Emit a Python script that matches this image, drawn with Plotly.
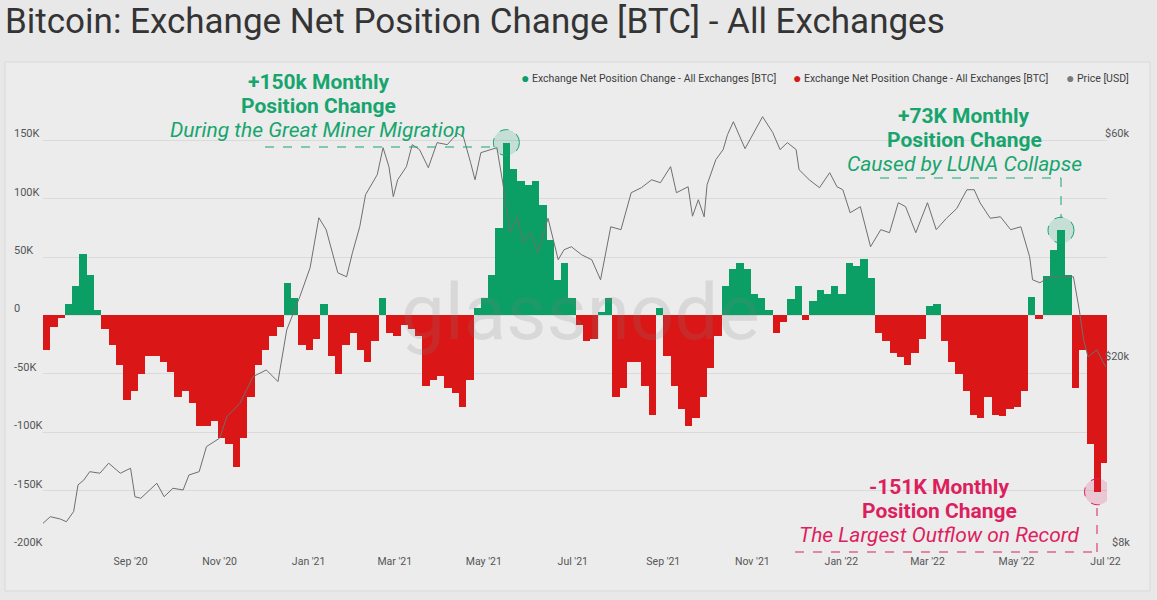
import math
import pandas as pd
import plotly.graph_objects as go

# exchange net position change, thousands of BTC, one value per 5-day bin from 2020-07-03
net_change_k = [
    -30, -10, -2, 10, 25, 53, 35, 5, -12, -25,
    -42, -72, -65, -50, -35, -35, -40, -48, -70, -65,
    -75, -95, -95, -90, -105, -110, -130, -105, -70, -42,
    -30, -18, -10, 28, 15, -25, -30, -20, 10, -35,
    -50, -25, -15, -30, -40, -22, 15, -15, -18, -8,
    -12, -18, -60, -55, -52, -62, -66, -78, -55, 6,
    15, 35, 75, 148, 125, 115, 112, 115, 95, 65,
    30, 45, 15, -8, -22, -20, 3, 15, -70, -62,
    -40, -40, -60, -85, 6, -35, -60, -80, -95, -88,
    -70, -45, -18, 25, 40, 45, 40, 18, 15, 5,
    -15, -6, 14, 25, -4, 12, 22, 18, 25, 18,
    45, 42, 48, 32, -15, -22, -32, -36, -42, -32,
    -20, 8, 10, -22, -40, -50, -65, -85, -88, -70,
    -85, -86, -80, -78, -65, 16, -3, 34, 56, 73,
    35, -62, -30, -110, -151, -126,
]

price_dates = [
    "2020-07-03", "2020-07-08", "2020-07-15", "2020-07-19", "2020-07-24", "2020-07-27", "2020-07-31", "2020-08-04", "2020-08-11", "2020-08-17",
    "2020-08-25", "2020-09-01", "2020-09-04", "2020-09-08", "2020-09-19", "2020-09-24", "2020-09-30", "2020-10-07", "2020-10-11", "2020-10-18",
    "2020-10-23", "2020-11-01", "2020-11-06", "2020-11-15", "2020-11-24", "2020-12-03", "2020-12-11", "2020-12-17", "2020-12-26", "2021-01-02",
    "2021-01-08", "2021-01-13", "2021-01-21", "2021-01-27", "2021-01-31", "2021-02-05", "2021-02-09", "2021-02-12", "2021-02-17", "2021-02-21",
    "2021-02-25", "2021-02-28", "2021-03-03", "2021-03-09", "2021-03-13", "2021-03-18", "2021-03-24", "2021-03-30", "2021-04-06", "2021-04-13",
    "2021-04-17", "2021-04-22", "2021-04-25", "2021-04-29", "2021-05-05", "2021-05-10", "2021-05-14", "2021-05-19", "2021-05-24", "2021-05-28",
    "2021-06-02", "2021-06-07", "2021-06-14", "2021-06-21", "2021-06-25", "2021-06-30", "2021-07-07", "2021-07-14", "2021-07-20", "2021-07-27",
    "2021-08-03", "2021-08-10", "2021-08-17", "2021-08-24", "2021-08-30", "2021-09-06", "2021-09-10", "2021-09-18", "2021-09-21", "2021-09-25",
    "2021-09-29", "2021-10-01", "2021-10-07", "2021-10-12", "2021-10-15", "2021-10-19", "2021-10-27", "2021-11-02", "2021-11-08", "2021-11-15",
    "2021-11-20", "2021-11-25", "2021-12-01", "2021-12-03", "2021-12-10", "2021-12-17", "2021-12-24", "2021-12-29", "2022-01-02", "2022-01-07",
    "2022-01-14", "2022-01-21", "2022-01-28", "2022-02-03", "2022-02-09", "2022-02-14", "2022-02-21", "2022-03-01", "2022-03-07", "2022-03-14",
    "2022-03-21", "2022-03-28", "2022-04-02", "2022-04-06", "2022-04-13", "2022-04-20", "2022-04-27", "2022-05-04", "2022-05-10", "2022-05-12",
    "2022-05-17", "2022-05-24", "2022-06-02", "2022-06-09", "2022-06-13", "2022-06-16", "2022-06-19", "2022-06-25", "2022-07-01",
]
price_usd = [
    9080, 9380, 9270, 9150, 9620, 10970, 11240, 11710, 11620, 12210,
    11620, 11910, 10350, 10270, 11060, 10350, 10790, 10700, 11520, 11710,
    13250, 13810, 15360, 16410, 18710, 19330, 18250, 23550, 27750, 31980,
    40910, 38580, 31190, 30590, 34420, 39130, 45830, 47440, 50570, 57780,
    52620, 45380, 49330, 52620, 58650, 57230, 52350, 59230, 58650, 62000,
    61000, 53650, 49330, 56380, 57230, 57780, 48620, 38010, 41110, 36170,
    38010, 34420, 40810, 33260, 34950, 35470, 34100, 33260, 30140, 39130,
    38580, 46280, 47440, 49330, 48620, 52620, 46280, 47660, 41220, 44710,
    41110, 48140, 54460, 57230, 61620, 65660, 57500, 62230, 67310, 62230,
    57230, 59230, 57230, 51850, 49330, 47440, 51080, 47660, 46970, 41940,
    43210, 35470, 38580, 38010, 44060, 43210, 38010, 44060, 38580, 40810,
    42790, 46970, 46970, 44060, 40810, 41110, 38580, 39130, 33760, 30140,
    29700, 30590, 30590, 30590, 25990, 22420, 20620, 21340, 19630,
]

left_ticks = [150000, 100000, 50000, 0, -50000, -100000, -150000, -200000]
left_labels = ["150K", "100K", "50K", "0", "-50K", "-100K", "-150K", "-200K"]
right_ticks = [60000, 20000, 8000]
right_labels = ["$60k", "$20k", "$8k"]

GREEN = "#0b9f66"
RED = "#da1616"
TXT_GREEN = "#17a56d"
TXT_PINK = "#dc1f5e"
FONT = "Roboto"

# plot area in page pixels
L, R, T, B = 43, 1107, 100, 549


def px(x):
    return (x - L) / (R - L)


def py(y):
    return (B - y) / (B - T)


bin_start = pd.date_range("2020-07-03", periods=len(net_change_k), freq="5D")
centers = bin_start + pd.Timedelta(hours=60)
values = [v * 1000 for v in net_change_k]
pos = [v if v > 0 else None for v in values]
neg = [v if v < 0 else None for v in values]
bar_w = 5 * 86400000

fig = go.Figure()
fig.add_trace(go.Bar(x=centers, y=pos, width=bar_w, marker=dict(color=GREEN, line_width=0),
                     name="Exchange Net Position Change - All Exchanges [BTC]"))
fig.add_trace(go.Bar(x=centers, y=neg, width=bar_w, marker=dict(color=RED, line_width=0),
                     name="Exchange Net Position Change - All Exchanges [BTC]"))
fig.add_trace(go.Scatter(x=price_dates, y=price_usd, yaxis="y2", mode="lines",
                         line=dict(color="#6f6f6f", width=1), name="Price [USD]"))

ann = []
shapes = []

# card
shapes.append(dict(type="rect", xref="paper", yref="paper", x0=px(5), x1=px(1150), y0=py(591), y1=py(62),
                   fillcolor="#ececed", line=dict(color="#d9d9d9", width=1), layer="below"))

# title
ann.append(dict(text="Bitcoin: Exchange Net Position Change [BTC] - All Exchanges", xref="paper", yref="paper",
                x=px(3), y=py(21), xanchor="left", yanchor="middle", showarrow=False,
                font=dict(family=FONT, size=35, color="#343434")))

# legend
legend_items = [(519, GREEN, "Exchange Net Position Change - All Exchanges [BTC]"),
                (791, RED, "Exchange Net Position Change - All Exchanges [BTC]"),
                (1064, "#7a7a7a", "Price [USD]")]
for lx, col, name in legend_items:
    ann.append(dict(text="●", xref="paper", yref="paper", x=px(lx), y=py(78), xanchor="left", yanchor="middle",
                    showarrow=False, font=dict(family=FONT, size=14, color=col)))
    ann.append(dict(text=name, xref="paper", yref="paper", x=px(lx + 11), y=py(78), xanchor="left", yanchor="middle",
                    showarrow=False, font=dict(family=FONT, size=10.5, color="#3d3d3d")))

# axis labels
for v, lab in zip(left_ticks, left_labels):
    ann.append(dict(text=lab, xref="paper", yref="y", x=px(12), y=v, xanchor="left", yanchor="bottom",
                    yshift=-2, showarrow=False, font=dict(family=FONT, size=11, color="#555")))
for v, lab in zip(right_ticks, right_labels):
    ann.append(dict(text=lab, xref="paper", yref="y2", x=px(1132), y=math.log10(v), xanchor="right",
                    yanchor="bottom", yshift=-2, showarrow=False, font=dict(family=FONT, size=11, color="#555")))

# watermark
ann.append(dict(text="glassnode", xref="paper", yref="paper", x=px(580), y=py(312), xanchor="center",
                yanchor="middle", showarrow=False,
                font=dict(family=FONT, size=78, color="rgba(130,130,130,0.18)")))


def callout(cx, lines, color):
    for (y, txt, bold) in lines:
        ann.append(dict(text=f"<b>{txt}</b>" if bold else f"<i>{txt}</i>", xref="paper", yref="paper",
                        x=px(cx), y=py(y), xanchor="center", yanchor="middle", showarrow=False,
                        height=22, borderpad=0, font=dict(family=FONT, size=21, color=color)))


callout(318, [(82, "+150k Monthly", True), (106, "Position Change", True),
              (130, "During the Great Miner Migration", False)], TXT_GREEN)
callout(964, [(116, "+73K Monthly", True), (140, "Position Change", True),
              (164, "Caused by LUNA Collapse", False)], TXT_GREEN)
callout(939, [(487, "-151K Monthly", True), (511, "Position Change", True),
              (535, "The Largest Outflow on Record", False)], TXT_PINK)


def dline(x0, y0, x1, y1, color):
    shapes.append(dict(type="line", xref="paper", yref="paper", x0=px(x0), y0=py(y0), x1=px(x1), y1=py(y1),
                       line=dict(color=color, width=1, dash="dash")))


def ring(i, fill, color):
    shapes.append(dict(type="circle", xref="x", yref="y", xsizemode="pixel", ysizemode="pixel",
                       xanchor=centers[i], yanchor=values[i], x0=-13, x1=13, y0=-13, y1=13,
                       fillcolor=fill, line=dict(color=color, width=1, dash="dash")))


peak_i = net_change_k.index(max(net_change_k))
luna_i = net_change_k.index(73)
low_i = net_change_k.index(min(net_change_k))

dline(265, 147, 496, 147, TXT_GREEN)
ring(peak_i, "rgba(23,165,109,0.18)", TXT_GREEN)
dline(880, 178, 1061, 178, TXT_GREEN)
dline(1061, 178, 1061, 218, TXT_GREEN)
ring(luna_i, "rgba(23,165,109,0.18)", TXT_GREEN)
dline(795, 552, 1097, 552, TXT_PINK)
dline(1097, 552, 1097, 508, TXT_PINK)
ring(low_i, "rgba(220,31,94,0.18)", TXT_PINK)

fig.update_layout(
    width=1157, height=600,
    margin=dict(l=L, r=1157 - R, t=T, b=600 - B),
    paper_bgcolor="#e8e8e9", plot_bgcolor="rgba(0,0,0,0)",
    showlegend=False, barmode="overlay", bargap=0,
    annotations=ann, shapes=shapes,
    font=dict(family=FONT),
    xaxis=dict(type="date", range=["2020-07-03", "2022-07-02"],
               tickvals=pd.date_range("2020-09-01", "2022-07-01", freq="2MS"),
               tickformat="%b '%y", showgrid=False, zeroline=False, showline=False, ticks="",
               ticklabelstandoff=4, tickfont=dict(size=10.5, color="#555")),
    yaxis=dict(range=[-200000, 184500], tickvals=left_ticks, showticklabels=False,
               gridcolor="#dadada", gridwidth=1, zeroline=False),
    yaxis2=dict(type="log", range=[math.log10(8000), 4.8638], overlaying="y", side="right",
                showgrid=False, showticklabels=False, zeroline=False),
)

# page has a default body margin; remove it so the figure sits at the window origin
fig.write_html("out.html", config={"displayModeBar": False},
               post_script="document.body.style.margin='0px';")
